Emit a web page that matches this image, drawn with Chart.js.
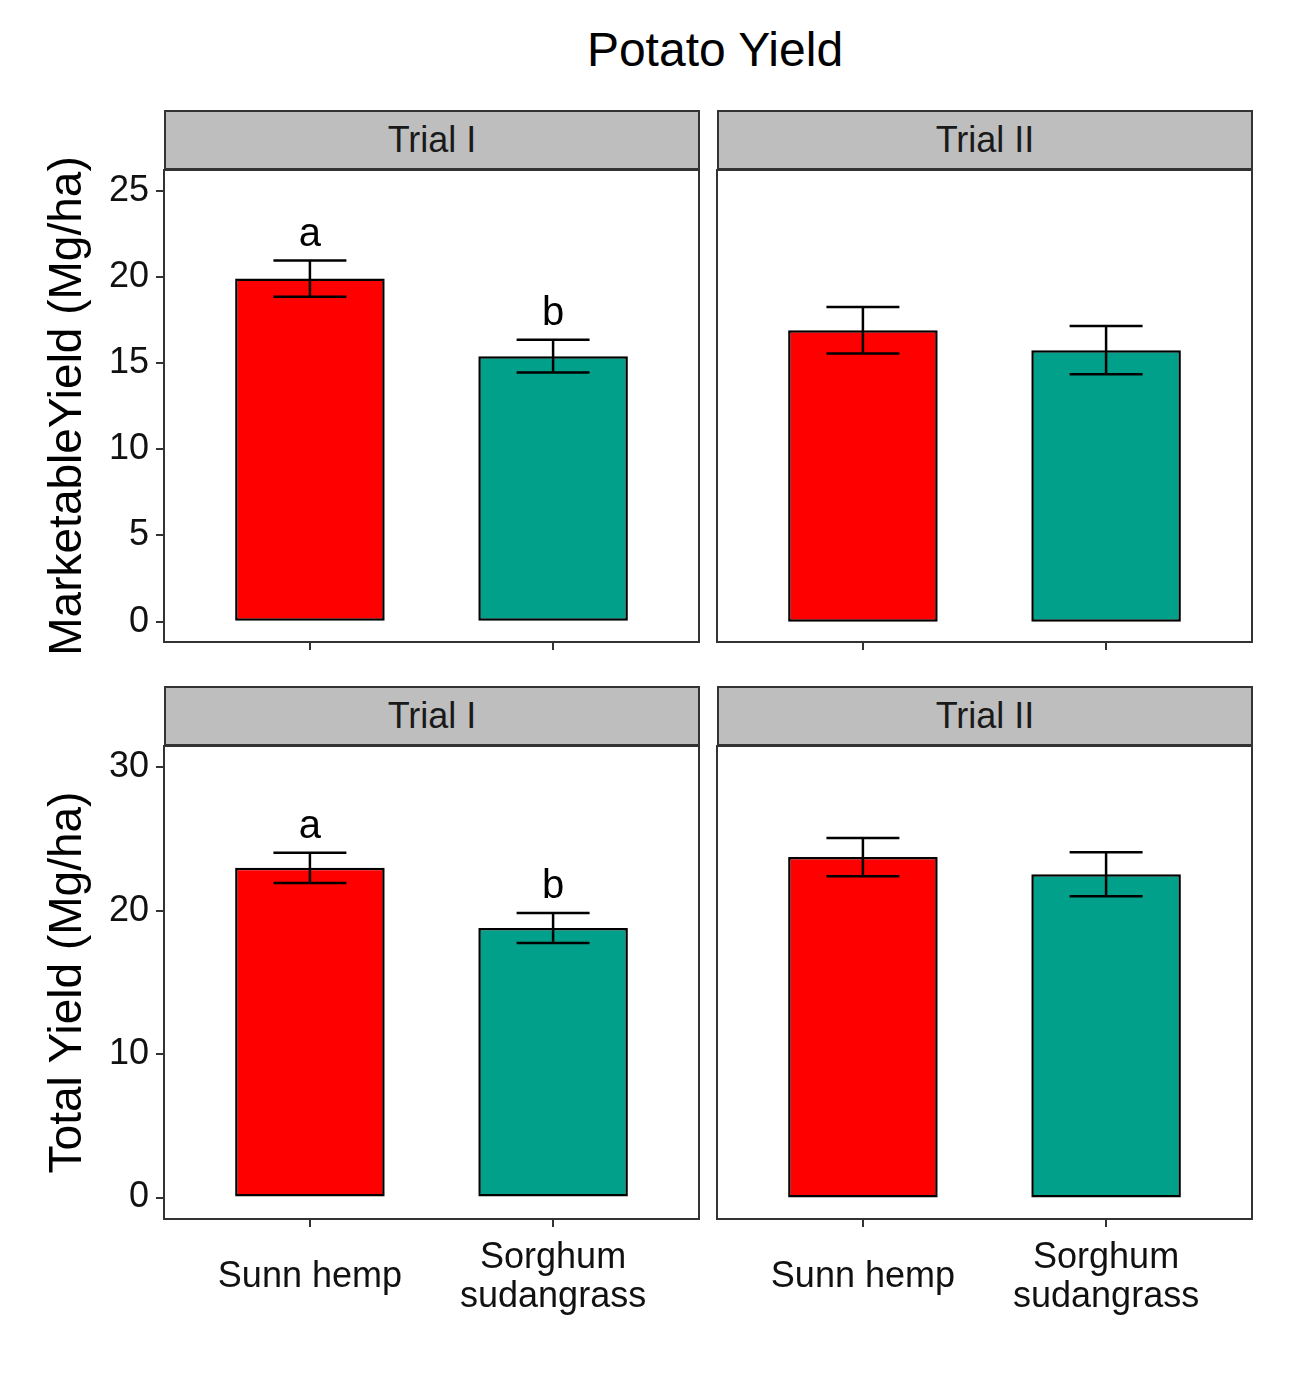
<!DOCTYPE html>
<html>
<head>
<meta charset="utf-8">
<title>Potato Yield</title>
<script src="https://cdn.jsdelivr.net/npm/chart.js@4.4.1/dist/chart.umd.min.js"></script>
<style>
    body { margin: 0; background: #ffffff; font-family: 'Liberation Sans', Arial, sans-serif; }
    #page { position: relative; width: 1300px; height: 1387px; overflow: hidden; }
    .title { position: absolute; left: 415px; top: 24px; width: 600px; height: 52px; line-height: 52px;
             text-align: center; font-size: 48px; color: #000; }
    .strip { position: absolute; box-sizing: border-box; height: 61px; background: #bebebe;
             border: 2px solid #333; border-bottom-width: 3px; text-align: center;
             font-size: 36px; line-height: 56px; color: #1a1a1a; }
    canvas { position: absolute; }
</style>
</head>
<body>
<div id="page">
    <div class="title">Potato Yield</div>
</div>
<script>
// Data
const trials = ['Trial I', 'Trial II'];
const cropLabels = [['Sunn hemp'], ['Sorghum', 'sudangrass']];
const cropColors = ['#ff0000', '#00a08a'];

const marketableTrialI = [19.9, 15.4];
const marketableTrialIErr = [1.05, 0.95];
const marketableTrialII = [16.9, 15.75];
const marketableTrialIIErr = [1.35, 1.4];

const totalTrialI = [23.0, 18.8];
const totalTrialIErr = [1.05, 1.05];
const totalTrialII = [23.75, 22.55];
const totalTrialIIErr = [1.33, 1.53];

const lettersTrialI = ['a', 'b'];
const lettersTrialII = ['', ''];

const yTicksMarketable = [0, 5, 10, 15, 20, 25];
const yTicksTotal = [0, 10, 20, 30];

const FONT = "'Liberation Sans', Arial, sans-serif";
const page = document.getElementById('page');

// Error bars, significance letters and panel border, drawn from the chart's own scales
const errorBarPlugin = {
    id: 'errorBars',
    afterDatasetsDraw(chart) {
        const { ctx, scales: { x, y } } = chart;
        const cfg = chart.options.plugins.errorBars;
        const half = x.getPixelForValue(1.15) - x.getPixelForValue(1);
        ctx.save();
        ctx.strokeStyle = '#000';
        ctx.lineWidth = 2.5;
        cfg.values.forEach((v, i) => {
            const cx = x.getPixelForValue(i + 1);
            const top = y.getPixelForValue(v + cfg.errors[i]);
            const bot = y.getPixelForValue(v - cfg.errors[i]);
            ctx.beginPath();
            ctx.moveTo(cx - half, top); ctx.lineTo(cx + half, top);
            ctx.moveTo(cx, top); ctx.lineTo(cx, bot);
            ctx.moveTo(cx - half, bot); ctx.lineTo(cx + half, bot);
            ctx.stroke();
            if (cfg.letters[i]) {
                ctx.fillStyle = '#000';
                ctx.font = '40px ' + FONT;
                ctx.textAlign = 'center';
                ctx.textBaseline = 'alphabetic';
                ctx.fillText(cfg.letters[i], cx, top - 15);
            }
        });
        // panel border
        const a = chart.chartArea;
        ctx.strokeStyle = '#333';
        ctx.lineWidth = 2;
        ctx.strokeRect(a.left, a.top, a.right - a.left, a.bottom - a.top);
        ctx.restore();
    }
};

const makePanel = (opts) => {
    const canvas = document.createElement('canvas');
    canvas.style.left = opts.left + 'px';
    canvas.style.top = opts.top + 'px';
    canvas.style.width = opts.width + 'px';
    canvas.style.height = opts.height + 'px';
    canvas.width = opts.width;
    canvas.height = opts.height;
    page.appendChild(canvas);

    return new Chart(canvas.getContext('2d'), {
        type: 'bar',
        data: {
            datasets: [{
                data: opts.values.map((v, i) => ({ x: i + 1, y: v })),
                backgroundColor: cropColors,
                borderColor: '#000',
                borderWidth: 2.5,
                borderSkipped: false,
                categoryPercentage: 1,
                barPercentage: 0.615
            }]
        },
        options: {
            responsive: false,
            animation: false,
            events: [],
            layout: { padding: opts.padding },
            plugins: {
                legend: { display: false },
                tooltip: { enabled: false },
                errorBars: { values: opts.values, errors: opts.errors, letters: opts.letters }
            },
            scales: {
                x: {
                    type: 'linear',
                    min: 0.4,
                    max: 2.6,
                    offset: false,
                    border: { display: false },
                    grid: { offset: false, drawOnChartArea: false, drawTicks: true, tickLength: 8, color: '#333', lineWidth: 2 },
                    afterBuildTicks: (scale) => { scale.ticks = cropLabels.map((c, i) => ({ value: i + 1 })); },
                    ticks: {
                        autoSkip: false,
                        maxRotation: 0,
                        padding: 31,
                        crossAlign: 'center',
                        color: '#111',
                        font: { family: FONT, size: 36, lineHeight: 1.083 },
                        callback: (value) => opts.showX ? cropLabels[value - 1] : ''
                    },
                    afterFit: (scale) => {
                        scale.height = opts.xHeight;
                        scale.paddingLeft = 0; scale.paddingRight = 0;
                    }
                },
                y: {
                    display: opts.showY,
                    min: opts.yMin,
                    max: opts.yMax,
                    border: { display: false },
                    grid: { drawOnChartArea: false, drawTicks: true, tickLength: 8, color: '#333', lineWidth: 2 },
                    afterBuildTicks: (scale) => { scale.ticks = opts.yTicks.map(v => ({ value: v })); },
                    ticks: {
                        padding: 7,
                        color: '#111',
                        font: { family: FONT, size: 36 }
                    },
                    title: {
                        display: true,
                        text: opts.yTitle,
                        color: '#000',
                        padding: { top: 45.5, bottom: 0 },
                        font: { family: FONT, size: 46, lineHeight: 1 }
                    },
                    afterFit: (scale) => {
                        scale.width = opts.showY ? 164 : 0;
                        scale.paddingTop = 0; scale.paddingBottom = 0;
                    }
                }
            }
        },
        plugins: [errorBarPlugin]
    });
};

const addStrip = (text, left, top) => {
    const div = document.createElement('div');
    div.className = 'strip';
    div.style.left = left + 'px';
    div.style.top = top + 'px';
    div.style.width = '536px';
    div.textContent = text;
    page.appendChild(div);
};

// Top row: marketable yield
makePanel({ left: 0, top: 130, width: 712, height: 532, padding: { left: 0, right: 13, top: 40, bottom: 0 },
    values: marketableTrialI, errors: marketableTrialIErr, letters: lettersTrialI,
    yMin: -1.18, yMax: 26.2, yTicks: yTicksMarketable, yTitle: 'MarketableYield (Mg/ha)',
    showY: true, showX: false, xHeight: 20 });
makePanel({ left: 705, top: 130, width: 595, height: 532, padding: { left: 12, right: 48, top: 40, bottom: 0 },
    values: marketableTrialII, errors: marketableTrialIIErr, letters: lettersTrialII,
    yMin: -1.18, yMax: 26.2, yTicks: yTicksMarketable, yTitle: '',
    showY: false, showX: false, xHeight: 20 });

// Bottom row: total yield
makePanel({ left: 0, top: 742, width: 712, height: 578, padding: { left: 0, right: 13, top: 4, bottom: 0 },
    values: totalTrialI, errors: totalTrialIErr, letters: lettersTrialI,
    yMin: -1.5, yMax: 31.5, yTicks: yTicksTotal, yTitle: 'Total Yield (Mg/ha)',
    showY: true, showX: true, xHeight: 101 });
makePanel({ left: 705, top: 742, width: 595, height: 578, padding: { left: 12, right: 48, top: 4, bottom: 0 },
    values: totalTrialII, errors: totalTrialIIErr, letters: lettersTrialII,
    yMin: -1.5, yMax: 31.5, yTicks: yTicksTotal, yTitle: '',
    showY: false, showX: true, xHeight: 101 });

// Facet strips (added after the canvases so they sit on top)
addStrip(trials[0], 164, 110);
addStrip(trials[1], 717, 110);
addStrip(trials[0], 164, 686);
addStrip(trials[1], 717, 686);
</script>
</body>
</html>
